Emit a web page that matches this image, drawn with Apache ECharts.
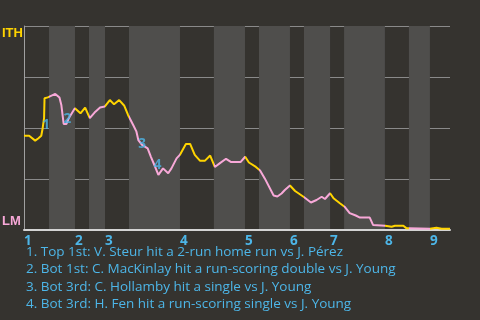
<!DOCTYPE html>
<html><head><meta charset="utf-8">
<script src="https://cdn.jsdelivr.net/npm/echarts@6/dist/echarts.min.js"></script>
<style>html,body{margin:0;padding:0;background:#35332f;}#c{width:480px;height:320px;}</style>
</head><body><div id="c"></div>
<script>
// Game progress (approx. plate appearances) and ITH win probability (%)
const wpX = [0,1.1,2.4,3.1,3.7,4.0,4.3,4.4,4.6,5.1,6.7,7.6,8.0,8.5,9.1,9.6,10.9,12.1,13.1,14.1,15.3,16.3,17.3,18.4,19.3,20.4,21.5,22.3,23.4,24.1,24.5,25.3,26.5,27.2,28.1,28.8,29.8,30.9,31.6,32.7,33.4,34.7,35.6,36.6,37.7,38.8,39.9,40.9,42.0,43.3,44.4,46.4,47.4,48.2,49.7,50.6,51.6,53.5,54.3,55.2,55.9,57.0,58.1,59.9,61.5,62.7,63.8,64.5,65.6,66.4,67.7,68.7,69.8,71.1,72.0,74.1,74.8,77.4,78.8,79.5,81.3,82.0,82.5,87.0,88.4,89.5,91.3];
const wpY = [46.2,46.2,43.8,45.0,46.2,49.9,54.8,64.6,65.3,65.0,66.7,64.9,61.3,52.0,52.0,54.8,59.7,57.2,60.0,54.8,58.0,60.0,60.5,63.7,61.6,63.7,60.9,56.4,51.5,48.2,44.1,41.7,40.0,35.9,31.0,27.0,30.2,27.8,30.2,35.1,36.8,42.2,42.2,36.8,34.0,34.0,36.5,30.9,32.8,34.9,33.3,33.3,35.9,33.1,30.9,29.2,25.3,16.9,16.4,17.9,19.6,21.8,19.1,16.3,13.5,14.7,16.3,15.2,18.0,15.4,13.1,11.4,8.3,7.1,6.1,6.1,2.5,2.1,1.6,2.1,2.1,0.8,0.8,0.6,1.1,0.6,0.6];
// Half-inning boundaries (top half, bottom half alternate)
const halfStarts = [0,5.36,10.93,13.93,17.36,22.5,33.43,40.7,47.36,50.36,57.0,60.0,65.6,68.6,77.35,82.5,87.0];
const gameEnd = 91.3;
const innings = ['1','2','3','4','5','6','7','8','9'];
const teams = {top:'ITH', bottom:'LM'};
const annX = [4.76, 9.28, 25.3, 28.65];
const annY = [51.5, 54.3, 42.3, 31.7];
const annText = ['1','2','3','4'];
const notes = [
  '1. Top 1st: V. Steur hit a 2-run home run vs J. Pérez',
  '2. Bot 1st: C. MacKinlay hit a run-scoring double vs J. Young',
  '3. Bot 3rd: C. Hollamby hit a single vs J. Young',
  '4. Bot 3rd: H. Fen hit a run-scoring single vs J. Young'
];

const YEL = '#ffd400', PINK = '#f8a8d8', BLUE = '#4db6e8';
const FONT = '"Open Sans", "Noto Sans", sans-serif';
const NARROW = '"Liberation Sans", Arial, sans-serif';

const topStarts = halfStarts.filter((v,i)=>i%2===0);
const bands = [], pieces = [];
for (let i=0;i<halfStarts.length;i++){
  const a = halfStarts[i], b = i+1<halfStarts.length ? halfStarts[i+1] : gameEnd;
  if (i%2===1) bands.push([{xAxis:a},{xAxis:b}]);
  pieces.push({gte:a, lt: (i+1<halfStarts.length? b : gameEnd+1), color: i%2===0?YEL:PINK});
}

const chart = echarts.init(document.getElementById('c'), null, {renderer:'canvas'});
chart.setOption({
  backgroundColor:'#35332f',
  animation:false,
  grid:{left:24,right:30,top:26,bottom:90,containLabel:false,outerBoundsMode:'none'},
  xAxis:{type:'value',min:0,max:gameEnd,z:1,
    axisLine:{show:true,lineStyle:{color:'#d4d4d4',width:2}},
    axisTick:{show:false},splitLine:{show:false},
    axisLabel:{customValues:topStarts,align:'left',margin:4,color:BLUE,fontWeight:'bold',fontSize:13.5,fontFamily:FONT,
      formatter:v=>innings[topStarts.indexOf(v)] ?? ''}},
  yAxis:{type:'value',min:0,max:100,interval:25,z:1,
    axisLine:{show:true,lineStyle:{color:'#a0a0a0'}},
    axisTick:{show:false},
    splitLine:{lineStyle:{color:'#8a8a8a'}},
    axisLabel:{customValues:[0,100],margin:22,align:'left',fontWeight:'bold',fontSize:13,fontFamily:NARROW,
      formatter:v=> v===100 ? '{t|'+teams.top+'}' : '{b|'+teams.bottom+'}',
      rich:{t:{color:YEL,padding:[14,0,0,0],fontWeight:'bold',fontSize:13,fontFamily:NARROW},
            b:{color:PINK,padding:[0,0,18,0],fontWeight:'bold',fontSize:13,fontFamily:NARROW}}}},
  visualMap:{show:false,type:'piecewise',dimension:0,seriesIndex:1,pieces:pieces},
  series:[
    {type:'line',z:0,data:[],silent:true,
      markArea:{silent:true,itemStyle:{color:'#4f4e4c'},data:bands}},
    {type:'line',z:3,data:wpX.map((x,i)=>[x,wpY[i]]),showSymbol:false,lineStyle:{width:2}},
    {type:'scatter',z:4,symbolSize:0,data:annX.map((x,i)=>[x,annY[i]]),
      label:{show:true,position:'inside',formatter:p=>annText[p.dataIndex],color:BLUE,fontWeight:'bold',fontSize:13.5,fontFamily:FONT}}
  ],
  graphic: notes.map((t,i)=>({type:'text',left:26,top:245+i*17.4,
    style:{text:t,fill:BLUE,fontSize:13.5,fontFamily:FONT}}))
});
</script></body></html>
